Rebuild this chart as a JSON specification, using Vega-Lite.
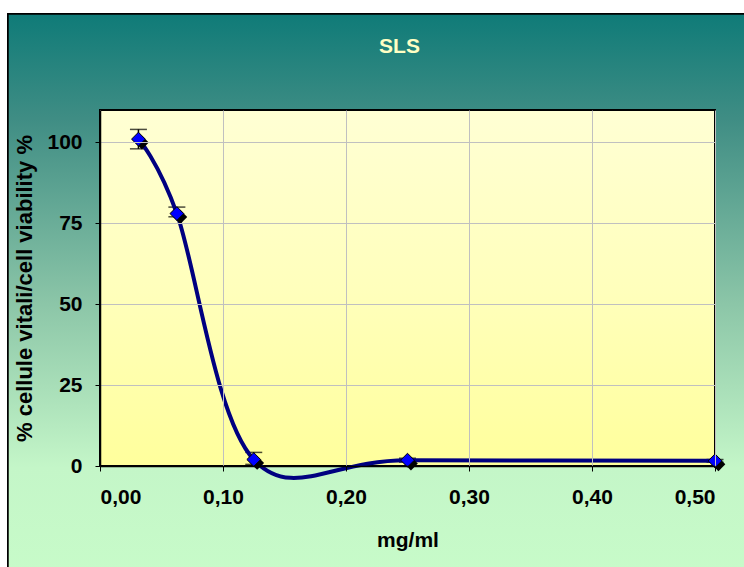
{
  "$schema": "https://vega.github.io/schema/vega-lite/v6.json",
  "width": 615,
  "height": 356,
  "autosize": {"type": "none"},
  "padding": {"left": 100, "top": 110, "right": 29, "bottom": 101},
  "background": "white",
  "title": {
    "text": "SLS",
    "font": "Liberation Sans",
    "fontSize": 21,
    "fontWeight": "bold",
    "color": "#ffffc4",
    "anchor": "middle",
    "offset": -44,
    "dx": -8,
    "zindex": 1
  },
  "data": {
    "values": [
      {"conc": 0.03125, "viab": 101, "lo": 98, "hi": 104},
      {"conc": 0.0625, "viab": 78, "lo": 77, "hi": 80},
      {"conc": 0.125, "viab": 2, "lo": 0.5, "hi": 4.2},
      {"conc": 0.25, "viab": 1.8, "lo": 1.2, "hi": 2.4},
      {"conc": 0.5, "viab": 1.6, "lo": 1.2, "hi": 2.0}
    ]
  },
  "encoding": {
    "x": {
      "field": "conc",
      "type": "quantitative",
      "scale": {"domain": [0, 0.5], "nice": false, "zero": true},
      "axis": {
        "title": "mg/ml",
        "values": [0, 0.1, 0.2, 0.3, 0.4, 0.5],
        "labelExpr": "replace(format(datum.value, '.2f'), '.', ',')",
        "labelPadding": 15,
        "titlePadding": 22,
        "zindex": 1
      }
    },
    "y": {
      "field": "viab",
      "type": "quantitative",
      "scale": {"domain": [0, 110], "nice": false},
      "axis": {
        "title": "% cellule vitali/cell viability %",
        "titleFontSize": 22,
        "values": [0, 25, 50, 75, 100],
        "labelPadding": 13,
        "titlePadding": 10,
        "zindex": 1
      }
    }
  },
  "layer": [
    {
      "mark": {
        "type": "rect",
        "stroke": "black",
        "strokeWidth": 1.5,
        "fill": {
          "gradient": "linear",
          "x1": 0, "y1": 0, "x2": 0, "y2": 1,
          "stops": [
            {"offset": 0, "color": "#0f7b78"},
            {"offset": 0.18, "color": "#3f8d84"},
            {"offset": 0.5, "color": "#8cc6a8"},
            {"offset": 0.78, "color": "#c4f6c8"},
            {"offset": 1, "color": "#c8fcc9"}
          ]
        }
      },
      "encoding": {
        "x": {"datum": -0.0748, "type": "quantitative"},
        "x2": {"datum": 0.6},
        "y": {"datum": 139.7, "type": "quantitative"},
        "y2": {"datum": -40}
      }
    },
    {
      "mark": {
        "type": "rect",
        "stroke": "black",
        "strokeWidth": 2,
        "fill": {
          "gradient": "linear",
          "x1": 0, "y1": 0, "x2": 0, "y2": 1,
          "stops": [
            {"offset": 0, "color": "#ffffd4"},
            {"offset": 0.5, "color": "#ffffbc"},
            {"offset": 1, "color": "#ffff9c"}
          ]
        }
      },
      "encoding": {
        "x": {"datum": 0, "type": "quantitative"},
        "x2": {"datum": 0.5},
        "y": {"datum": 110, "type": "quantitative"},
        "y2": {"datum": 0}
      }
    },
    {
      "mark": {
        "type": "errorbar",
        "color": "black",
        "thickness": 1.5,
        "ticks": {"size": 17, "color": "black", "thickness": 1.5}
      },
      "encoding": {
        "y": {"field": "lo", "type": "quantitative"},
        "y2": {"field": "hi"}
      }
    },
    {
      "mark": {
        "type": "line",
        "interpolate": "cardinal",
        "tension": 0,
        "color": "#000080",
        "strokeWidth": 4
      }
    },
    {
      "mark": {
        "type": "point",
        "shape": "M-0.5,0.5L0.5,-0.5L1.5,0.5L0.5,1.5Z",
        "filled": true,
        "color": "black",
        "size": 190,
        "opacity": 1
      }
    },
    {
      "mark": {
        "type": "point",
        "shape": "diamond",
        "filled": true,
        "fill": "#0000ff",
        "stroke": "black",
        "strokeWidth": 1,
        "size": 190,
        "opacity": 1
      }
    }
  ],
  "config": {
    "view": {"stroke": null},
    "axis": {
      "labelFont": "Liberation Sans",
      "labelFontSize": 21,
      "labelFontWeight": "bold",
      "labelColor": "black",
      "titleFont": "Liberation Sans",
      "titleFontSize": 21,
      "titleFontWeight": "bold",
      "titleColor": "black",
      "domainColor": "black",
      "domainWidth": 1.5,
      "tickColor": "black",
      "tickSize": 5,
      "gridColor": "#c0c0c0",
      "gridWidth": 1,
      "gridOpacity": 1
    }
  }
}
